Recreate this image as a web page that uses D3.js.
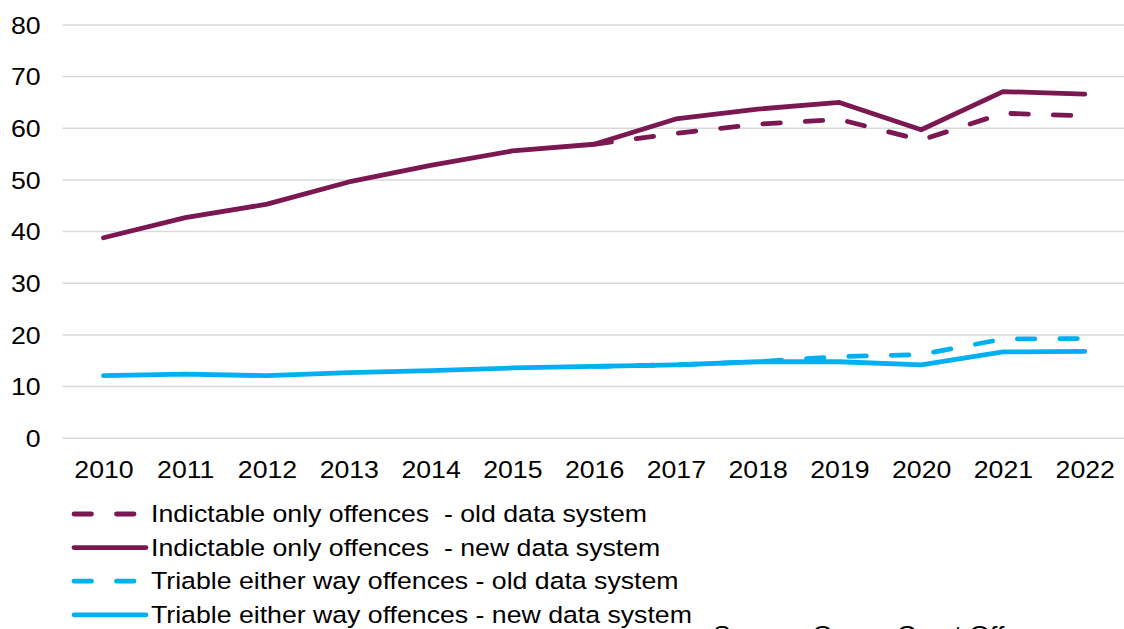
<!DOCTYPE html>
<html>
<head>
<meta charset="utf-8">
<script src="https://cdn.jsdelivr.net/npm/d3@7"></script>
<style>
  html, body { margin: 0; padding: 0; background: #fff; overflow: hidden; }
  svg { display: block; font-family: "Liberation Sans", Arial, sans-serif; }
</style>
</head>
<body>
<svg id="chart" width="1124" height="629"></svg>
<script>
// ---- data ----
const years = ["2010","2011","2012","2013","2014","2015","2016","2017","2018","2019","2020","2021","2022"];
const indictableOld = [null, null, null, null, null, null, 56.8, 58.9, 60.7, 61.6, 57.6, 62.8, 62.3];
const indictableNew = [38.7, 42.6, 45.2, 49.5, 52.7, 55.5, 56.8, 61.7, 63.6, 64.9, 59.6, 67.0, 66.5];
const triableOld    = [null, null, null, null, null, null, 13.8, 14.1, 14.7, 15.7, 16.1, 19.1, 19.2];
const triableNew    = [12.0, 12.3, 12.0, 12.6, 13.0, 13.5, 13.8, 14.1, 14.7, 14.7, 14.1, 16.6, 16.7];
const yTicks = [0, 10, 20, 30, 40, 50, 60, 70, 80];
const seriesNames = [
  "Indictable only offences  - old data system",
  "Indictable only offences  - new data system",
  "Triable either way offences - old data system",
  "Triable either way offences - new data system"
];
const sourceNote = "Source: Crown Court Offences";

// ---- styling ----
const PURPLE = "#7b1751", BLUE = "#00b0f0", GRID = "#d9d9d9";
const STRETCH = 1.135;
const series = [
  { name: seriesNames[0], values: indictableOld, color: PURPLE, dashed: true },
  { name: seriesNames[1], values: indictableNew, color: PURPLE, dashed: false },
  { name: seriesNames[2], values: triableOld, color: BLUE, dashed: true },
  { name: seriesNames[3], values: triableNew, color: BLUE, dashed: false }
];

const svg = d3.select("#chart");
const plotLeft = 62.6, plotRight = 1125.6, plotTop = 24.4, plotBottom = 437.7;

const x = d3.scalePoint().domain(years).range([plotLeft, plotRight]).padding(0.5);
const y = d3.scaleLinear().domain([0, 80]).range([plotBottom, plotTop]);

// gridlines
const grid = svg.append("g").attr("transform", `translate(${plotLeft},0)`)
  .call(d3.axisLeft(y).tickValues(yTicks).tickSize(-(1124 - plotLeft)).tickFormat(""));
grid.select(".domain").remove();
grid.selectAll(".tick line").attr("stroke", GRID).attr("stroke-width", 1.5);

// y axis labels
const yAxis = svg.append("g").attr("transform", `translate(${plotLeft},0)`)
  .call(d3.axisLeft(y).tickValues(yTicks).tickSize(0).tickPadding(22));
yAxis.select(".domain").remove();
yAxis.selectAll("text")
  .attr("font-size", 23.5).attr("fill", "#000").attr("font-family", "Liberation Sans, Arial, sans-serif")
  .attr("dy", "0.37em")
  .attr("transform", `scale(${STRETCH},1)`)
  .attr("x", -22 / STRETCH);

// x axis labels
const xAxis = svg.append("g").attr("transform", `translate(0,${plotBottom})`)
  .call(d3.axisBottom(x).tickSize(0).tickPadding(23.5));
xAxis.select(".domain").remove();
xAxis.selectAll(".tick text")
  .attr("font-size", 23.5).attr("fill", "#000").attr("font-family", "Liberation Sans, Arial, sans-serif")
  .attr("transform", `scale(${STRETCH},1)`);

// lines
const line = d3.line()
  .defined(d => d.v !== null)
  .x(d => x(d.year))
  .y(d => y(d.v));

const DASH = "17.5,25";
series.forEach(s => {
  const pts = years.map((yr, i) => ({ year: yr, v: s.values[i] }));
  svg.append("path")
    .datum(pts)
    .attr("fill", "none")
    .attr("stroke", s.color)
    .attr("stroke-width", 4.8)
    .attr("stroke-linecap", "round")
    .attr("stroke-linejoin", "round")
    .attr("stroke-dasharray", s.dashed ? DASH : null)
    .attr("d", line);
});

// legend
const legendY0 = 514, legendStep = 33.6;
const lg = svg.append("g");
series.forEach((s, i) => {
  const ly = legendY0 + i * legendStep;
  lg.append("line")
    .attr("x1", 74).attr("x2", 146).attr("y1", ly).attr("y2", ly)
    .attr("stroke", s.color).attr("stroke-width", 4.8)
    .attr("stroke-linecap", "round")
    .attr("stroke-dasharray", s.dashed ? DASH : null);
  lg.append("text")
    .attr("transform", `translate(151,${ly + 8}) scale(${STRETCH},1)`)
    .attr("font-size", 23.5).attr("fill", "#000")
    .style("white-space", "pre")
    .attr("xml:space", "preserve")
    .text(s.name);
});

// source note (cut off at bottom edge, as in the reference)
svg.append("text")
  .attr("transform", `translate(713,643) scale(${STRETCH},1)`)
  .attr("font-size", 23.5).attr("fill", "#000")
  .text(sourceNote);
</script>
</body>
</html>
